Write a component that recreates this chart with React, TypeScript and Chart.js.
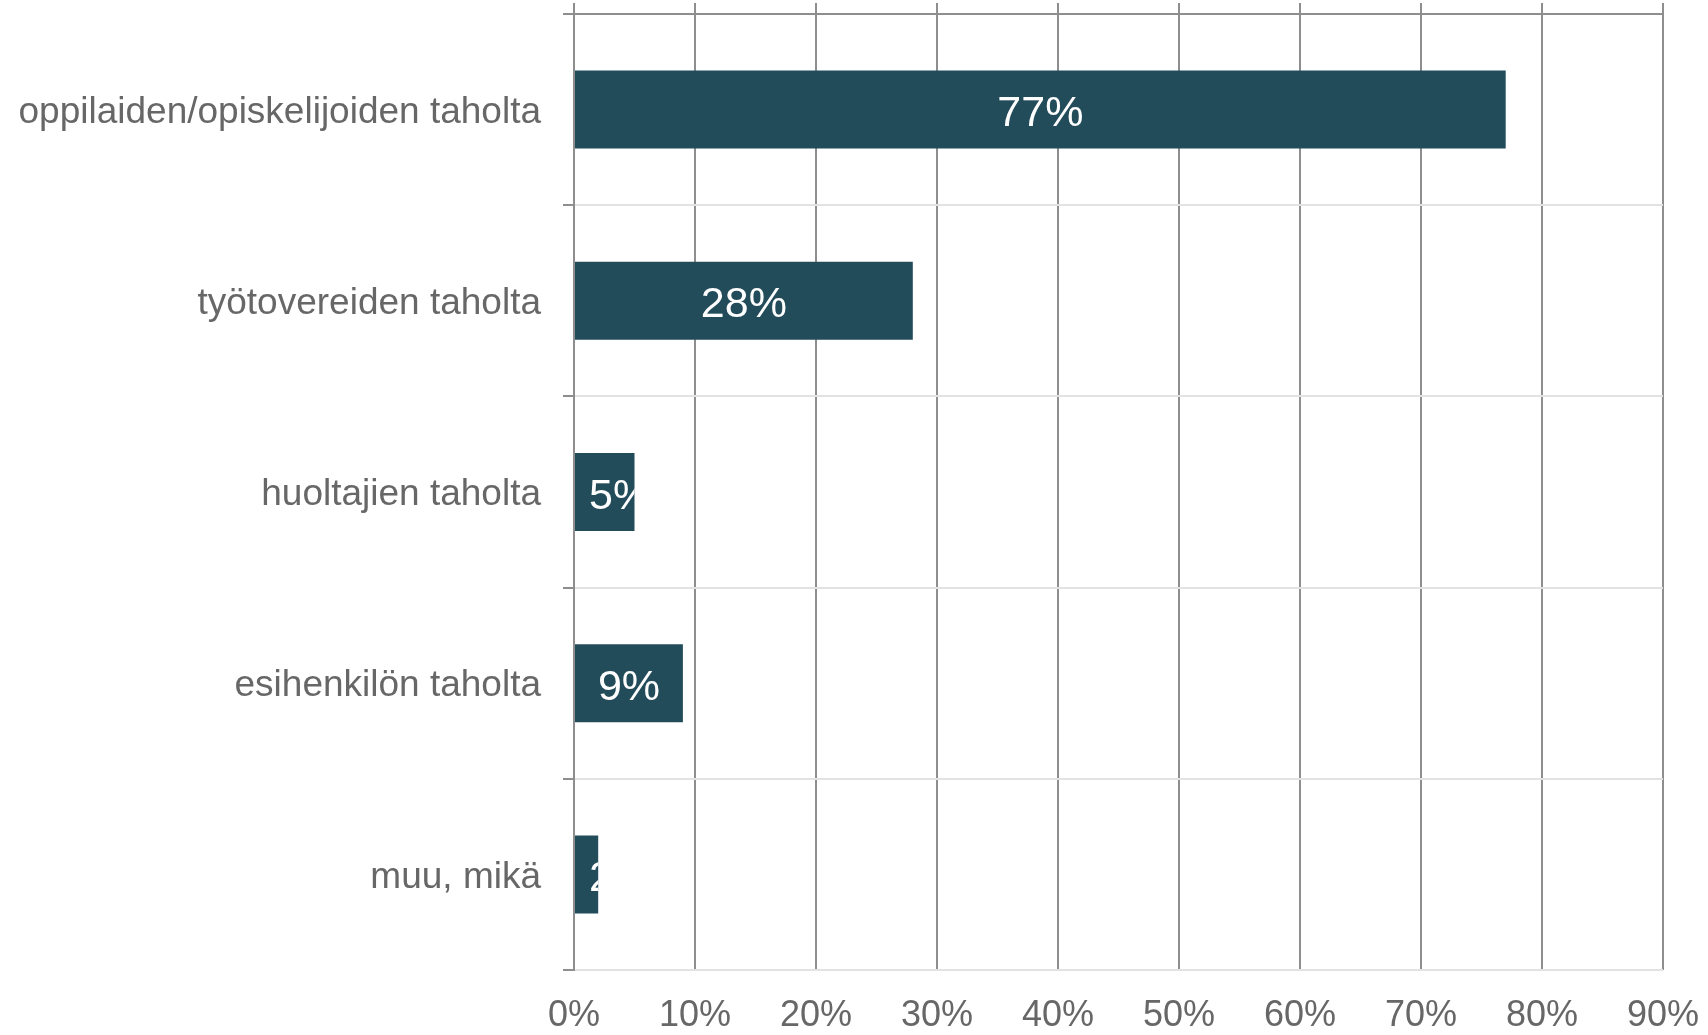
import React, { useEffect, useRef } from "react";
import { Chart, registerables } from "chart.js";

Chart.register(...registerables);

const categories = [
  "oppilaiden/opiskelijoiden taholta",
  "työtovereiden taholta",
  "huoltajien taholta",
  "esihenkilön taholta",
  "muu, mikä",
];
const values = [77, 28, 5, 9, 2];
const axisMax = 90;
const axisStep = 10;

const FONT = "'Liberation Sans', Arial, sans-serif";
const BAR = "#234c5a";
const GRID_DARK = "#8e8e8e";
const GRID_LIGHT = "#e2e2e2";
const TEXT = "#676767";

const labelPlugin = {
  id: "barLabels",
  afterDatasetsDraw(chart: any) {
    const ctx = chart.ctx;
    const meta = chart.getDatasetMeta(0);
    ctx.save();
    ctx.font = `43px ${FONT}`;
    ctx.fillStyle = "#ffffff";
    ctx.textBaseline = "alphabetic";
    ctx.textAlign = "left";
    meta.data.forEach((bar: any, i: number) => {
      const { x, y, base, height } = bar.getProps(["x", "y", "base", "height"], true);
      const text = `${values[i]}%`;
      const w = ctx.measureText(text).width;
      const center = (base + x) / 2;
      const left = Math.max(base + 14, center - w / 2);
      ctx.save();
      ctx.beginPath();
      ctx.rect(base, y - height / 2, x - base, height);
      ctx.clip();
      ctx.fillText(text, left, y + 16.5);
      ctx.restore();
    });
    ctx.restore();
  },
};

const noPad = (s: any) => {
  s.paddingTop = 0;
  s.paddingBottom = 0;
  s.paddingLeft = 0;
  s.paddingRight = 0;
};

export default function App() {
  const ref = useRef<HTMLCanvasElement | null>(null);
  useEffect(() => {
    document.body.style.margin = "0";
    const canvas = ref.current!;
    const chart = new Chart(canvas, {
      type: "bar",
      data: {
        labels: categories,
        datasets: [
          {
            data: values,
            backgroundColor: BAR,
            borderWidth: 0,
            categoryPercentage: 1,
            barPercentage: 0.408,
          },
        ],
      },
      options: {
        indexAxis: "y",
        animation: false,
        responsive: false,
        maintainAspectRatio: false,
        devicePixelRatio: 1,
        layout: { padding: { left: 0, right: 45, top: 0, bottom: 0 } },
        plugins: {
          legend: { display: false },
          tooltip: { enabled: false },
        },
        scales: {
          x: {
            type: "linear",
            position: "bottom",
            min: 0,
            max: axisMax,
            ticks: {
              stepSize: axisStep,
              color: TEXT,
              font: { family: FONT, size: 36 },
              padding: 24,
              callback: (v: any) => `${v}%`,
            },
            grid: { color: GRID_DARK, lineWidth: 2, drawTicks: false },
            border: { display: false },
            afterFit: (s: any) => {
              s.height = 65;
              noPad(s);
            },
          },
          x2: {
            type: "linear",
            position: "top",
            min: 0,
            max: axisMax,
            ticks: { stepSize: axisStep, display: false },
            grid: {
              drawOnChartArea: false,
              tickLength: 11,
              color: GRID_DARK,
              lineWidth: 2,
            },
            border: { display: true, color: GRID_DARK, width: 2 },
            afterFit: (s: any) => {
              s.height = 14;
              noPad(s);
            },
          },
          y: {
            type: "category",
            position: "left",
            offset: true,
            ticks: {
              color: TEXT,
              font: { family: FONT, size: 37 },
              padding: 22,
              labelOffset: 3,
            },
            grid: {
              offset: true,
              color: GRID_LIGHT,
              lineWidth: 2,
              tickLength: 11,
              tickColor: GRID_DARK,
              tickWidth: 2,
            },
            border: { display: true, color: GRID_DARK, width: 2 },
            afterFit: (s: any) => {
              s.width = 574;
              noPad(s);
            },
          },
        },
      },
      plugins: [labelPlugin],
    });
    return () => chart.destroy();
  }, []);
  return (
    <div style={{ width: 1708, height: 1035, background: "#fff" }}>
      <canvas ref={ref} width={1708} height={1035} style={{ width: 1708, height: 1035, display: "block" }} />
    </div>
  );
}
